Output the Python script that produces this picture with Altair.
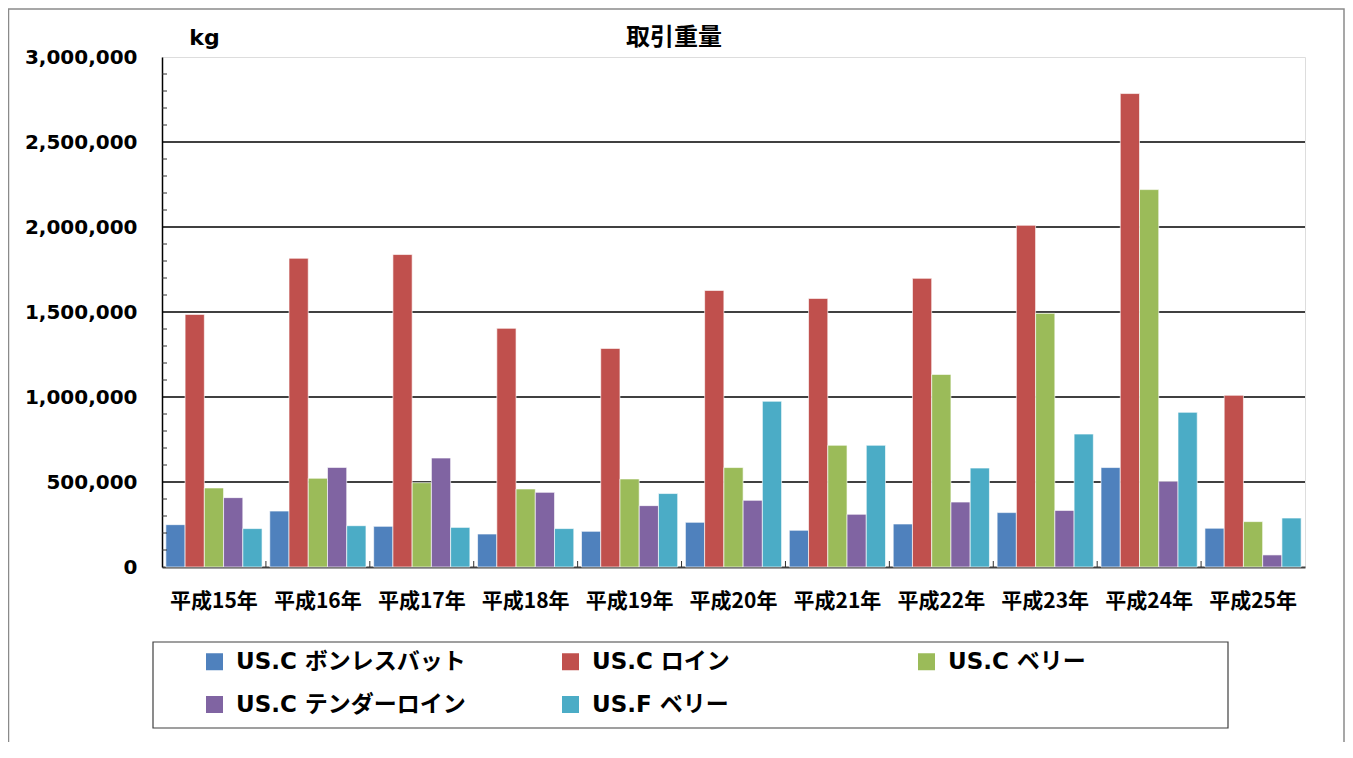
import altair as alt
import pandas as pd

years = ["平成15年", "平成16年", "平成17年", "平成18年", "平成19年", "平成20年",
         "平成21年", "平成22年", "平成23年", "平成24年", "平成25年"]
series = ["US.C ボンレスバット", "US.C ロイン", "US.C ベリー", "US.C テンダーロイン", "US.F ベリー"]
colors = ["#4F81BD", "#C0504D", "#9BBB59", "#8064A2", "#4BACC6"]

boneless = [249000, 329000, 239000, 194000, 210000, 263000, 216000, 253000, 320000, 585000, 228000]
loin = [1486000, 1816000, 1838000, 1404000, 1286000, 1627000, 1580000, 1698000, 2010000, 2785000, 1010000]
belly = [465000, 522000, 496000, 459000, 518000, 585000, 716000, 1133000, 1492000, 2220000, 267000]
tender = [408000, 586000, 641000, 439000, 361000, 392000, 310000, 382000, 333000, 504000, 71000]
fbelly = [226000, 243000, 233000, 226000, 432000, 975000, 716000, 582000, 782000, 910000, 288000]

chart_title = "取引重量"
unit_label = "kg"
y_labels = [0, 500000, 1000000, 1500000, 2000000, 2500000, 3000000]
grid_vals = [500000, 1000000, 1500000, 2000000, 2500000]
minor_ticks = [100000, 200000, 300000, 400000, 600000, 700000, 800000, 900000,
               1100000, 1200000, 1300000, 1400000, 1600000, 1700000, 1800000, 1900000,
               2100000, 2200000, 2300000, 2400000, 2600000, 2700000, 2800000, 2900000]

rows = []
for name, vals in zip(series, [boneless, loin, belly, tender, fbelly]):
    for yr, v in zip(years, vals):
        rows.append({"year": yr, "series": name, "value": v})
df = pd.DataFrame(rows)

LATIN = "DejaVu Sans, Noto Sans CJK JP"
CJK = "Noto Sans CJK JP"
W, H = 1143, 510

yscale = alt.Scale(domain=[0, 3000000], nice=False, zero=True)
xscale = alt.Scale(domain=years, paddingInner=0, paddingOuter=0)

xaxis = alt.Axis(title=None, labelAngle=0, ticks=False, grid=False,
                 domainColor="#404040", domainWidth=2,
                 labelFont=CJK, labelFontSize=21, labelFontWeight="bold",
                 labelColor="black", labelPadding=23)
yaxis = alt.Axis(values=y_labels, format=",.0f", grid=False, ticks=False,
                 title=unit_label, titleAngle=0, titleX=42, titleY=-20,
                 titleAlign="center", titleBaseline="middle",
                 titleFont=LATIN, titleFontSize=22, titleFontWeight="bold",
                 titleColor="black",
                 labelFont=LATIN, labelFontSize=20, labelFontWeight="bold",
                 labelColor="black", labelPadding=25,
                 domainColor="black", domainWidth=1.5)

one = pd.DataFrame({"a": [0]})

frame = alt.Chart(one).mark_rect(
    fillOpacity=0, stroke="#8a8a8a", strokeWidth=1.5
).encode(x=alt.value(-153.5), x2=alt.value(1182), y=alt.value(-48), y2=alt.value(720))

legend_box = alt.Chart(one).mark_rect(
    fillOpacity=0, stroke="#404040", strokeWidth=1.2
).encode(x=alt.value(-9), x2=alt.value(1066), y=alt.value(585), y2=alt.value(671))

title_text = alt.Chart(pd.DataFrame({"t": [chart_title]})).mark_text(
    font=CJK, fontSize=24, fontWeight="bold", color="black",
    align="center", baseline="middle"
).encode(text="t:N", x=alt.value(512), y=alt.value(-19))

grid = alt.Chart(pd.DataFrame({"value": grid_vals})).mark_rule(
    color="black", strokeWidth=1.7
).encode(y=alt.Y("value:Q", scale=yscale, axis=yaxis), x=alt.value(0), x2=alt.value(W))

bars = alt.Chart(df).mark_bar(stroke="white", strokeWidth=0.8, strokeOpacity=0.8).encode(
    x=alt.X("year:N", sort=years, scale=xscale, axis=xaxis),
    xOffset=alt.XOffset("series:N", sort=series,
                        scale=alt.Scale(domain=series, paddingInner=0, paddingOuter=0.2)),
    y=alt.Y("value:Q", scale=yscale, axis=yaxis),
    color=alt.Color("series:N", sort=series,
                    scale=alt.Scale(domain=series, range=colors),
                    legend=alt.Legend(orient="none", legendX=41, legendY=593,
                                      direction="horizontal", columns=3, title=None,
                                      symbolType="square", symbolSize=289,
                                      symbolStrokeWidth=0, symbolOpacity=1,
                                      labelFont=LATIN, labelFontSize=23,
                                      labelFontWeight="bold", labelColor="black",
                                      labelOffset=10, columnPadding=93, rowPadding=19,
                                      gridAlign="all", padding=0, labelLimit=400)),
)

yticks = alt.Chart(pd.DataFrame({"value": minor_ticks})).mark_rule(
    color="#303030", strokeWidth=1
).encode(y=alt.Y("value:Q", scale=yscale, axis=yaxis), x=alt.value(0), x2=alt.value(5))

xticks = alt.Chart(pd.DataFrame({"year": years[1:]})).mark_rule(
    color="#303030", strokeWidth=1
).encode(x=alt.X("year:N", sort=years, scale=xscale, bandPosition=0, axis=xaxis),
         y=alt.value(H - 6), y2=alt.value(H))

chart = alt.layer(frame, legend_box, title_text, grid, bars, yticks, xticks).properties(
    width=W, height=H,
    autosize="none",
    padding={"left": 154, "top": 49, "right": 40, "bottom": 175},
).configure_view(stroke="#868686", strokeWidth=2).configure(background="white")

chart.save("out.html", embed_options={"renderer": "svg", "actions": False})
